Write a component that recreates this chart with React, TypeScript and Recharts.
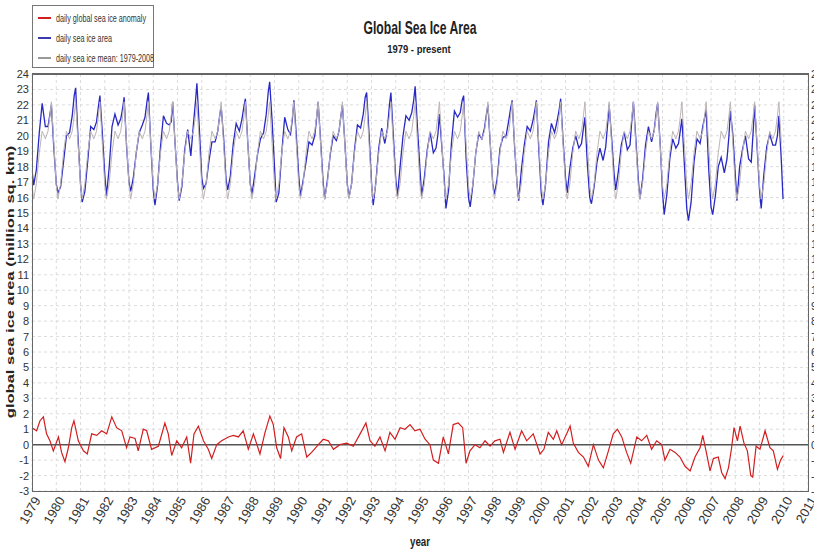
import React from 'react';
import { LineChart, Line, XAxis, YAxis, CartesianGrid, ReferenceLine } from 'recharts';

// years with data, and where each year's readings sit inside the year
const years = [
  1979, 1980, 1981, 1982, 1983, 1984, 1985, 1986, 1987, 1988, 1989, 1990, 1991, 1992, 1993, 1994,
  1995, 1996, 1997, 1998, 1999, 2000, 2001, 2002, 2003, 2004, 2005, 2006, 2007, 2008, 2009,
];
const seasonFractions = [0, 0.07, 0.18, 0.3, 0.42, 0.55, 0.66, 0.74, 0.8, 0.9];

// 1979-2008 mean cycle (same every year)
const meanCycle = [16.8, 15.9, 16.9, 18.9, 20.3, 19.8, 20.3, 21.3, 22.2, 19.5];

// daily sea ice area, read per year at the season fractions above
const areaByYear = [
  [17.8, 16.8, 17.8, 20.2, 22.1, 20.6, 20.6, 21.4, 22.0, 19.2],
  [16.9, 16.3, 16.7, 18.3, 20.0, 20.2, 21.3, 22.6, 23.1, 19.8],
  [16.9, 15.7, 16.4, 18.4, 20.6, 20.4, 20.9, 21.9, 22.6, 20.2],
  [17.5, 16.1, 17.9, 20.6, 21.4, 20.7, 21.1, 21.8, 22.5, 19.3],
  [17.0, 16.4, 17.3, 18.9, 20.2, 20.7, 21.2, 22.2, 22.8, 19.4],
  [16.5, 15.5, 16.8, 19.3, 21.3, 20.8, 20.7, 20.9, 22.2, 19.5],
  [17.0, 15.8, 16.7, 19.1, 20.4, 18.7, 20.8, 22.2, 23.4, 20.5],
  [17.3, 16.6, 16.9, 18.4, 19.6, 19.6, 20.3, 21.3, 21.9, 19.9],
  [17.2, 16.5, 17.4, 19.5, 20.8, 20.3, 21.1, 21.9, 22.4, 19.5],
  [16.9, 16.2, 17.4, 18.8, 19.8, 20.2, 21.4, 22.8, 23.5, 21.0],
  [18.0, 15.7, 16.3, 18.9, 21.2, 20.4, 20.1, 21.1, 22.3, 20.0],
  [17.4, 16.1, 17.1, 18.3, 19.6, 19.4, 20.0, 21.2, 22.2, 19.7],
  [17.1, 15.9, 17.1, 18.8, 20.0, 19.7, 20.3, 21.3, 22.0, 19.6],
  [16.9, 16.0, 16.9, 19.1, 20.7, 20.5, 21.4, 22.5, 22.8, 20.1],
  [17.0, 15.5, 17.0, 19.2, 20.5, 19.5, 20.5, 22.0, 22.8, 20.0],
  [17.2, 16.1, 18.0, 20.0, 21.3, 21.0, 21.5, 22.3, 23.2, 20.4],
  [17.8, 16.1, 17.3, 19.1, 20.2, 18.9, 19.2, 20.1, 21.4, 19.3],
  [17.2, 15.3, 16.5, 19.6, 21.6, 21.2, 21.5, 22.3, 22.6, 18.6],
  [16.0, 15.4, 16.8, 18.9, 20.1, 19.8, 20.5, 21.4, 22.0, 19.4],
  [16.9, 16.2, 17.2, 19.2, 19.9, 20.0, 21.0, 21.8, 22.3, 19.3],
  [16.9, 15.8, 17.8, 19.4, 20.6, 20.3, 21.0, 21.7, 22.3, 19.1],
  [16.3, 15.5, 16.9, 19.6, 20.8, 20.2, 21.0, 21.7, 22.4, 19.7],
  [17.3, 16.3, 17.9, 19.2, 20.0, 19.2, 19.5, 20.5, 21.2, 18.2],
  [16.0, 15.6, 16.7, 18.3, 19.2, 18.4, 19.3, 20.8, 22.0, 19.9],
  [17.6, 16.5, 17.7, 19.4, 20.2, 19.1, 19.4, 21.1, 22.2, 19.8],
  [17.2, 15.9, 17.2, 19.4, 20.6, 19.6, 20.4, 21.5, 22.1, 19.6],
  [16.4, 14.9, 16.2, 18.5, 19.8, 19.2, 19.5, 20.4, 21.1, 18.2],
  [15.3, 14.5, 15.7, 18.3, 19.8, 19.5, 20.6, 21.2, 21.7, 18.0],
  [15.4, 14.9, 16.1, 18.0, 18.6, 17.6, 18.5, 20.0, 21.6, 20.1],
  [17.5, 15.8, 18.0, 19.1, 20.0, 18.5, 18.3, 20.3, 22.0, 19.3],
  [16.5, 15.3, 17.5, 19.3, 20.1, 19.4, 19.4, 20.0, 21.3, 18.4],
];
const areaEnd = { t: 2009.97, v: 15.9 };

// daily global sea ice anomaly [year, million sq. km]
const anomaly: [number, number][] = [
  [1979.0, 1.1], [1979.19, 0.9], [1979.33, 1.55], [1979.47, 1.8], [1979.6, 0.7], [1979.74, 0.25],
  [1979.88, -0.4], [1980.09, 0.5], [1980.22, -0.5], [1980.36, -1.1], [1980.5, -0.2], [1980.64, 1.1],
  [1980.73, 1.55], [1980.91, 0.25], [1981.12, -0.4], [1981.28, -0.6], [1981.46, 0.7], [1981.67, 0.6],
  [1981.87, 0.9], [1982.08, 0.7], [1982.29, 1.8], [1982.49, 1.1], [1982.7, 0.9], [1982.9, -0.2],
  [1983.04, 0.5], [1983.25, 0.4], [1983.38, -0.4], [1983.59, 1.0], [1983.73, 0.9], [1983.93, -0.3],
  [1984.21, -0.1], [1984.48, 1.4], [1984.62, 0.7], [1984.76, -0.7], [1984.97, 0.25], [1985.17, -0.2],
  [1985.38, 0.5], [1985.54, -1.2], [1985.68, 0.7], [1985.86, 1.2], [1986.07, 0.25], [1986.27, -0.3],
  [1986.41, -0.9], [1986.62, 0.0], [1986.82, 0.25], [1987.1, 0.5], [1987.3, 0.6], [1987.51, 0.5],
  [1987.71, 0.9], [1987.92, -0.3], [1988.13, 0.7], [1988.4, -0.6], [1988.61, 0.8], [1988.81, 1.85],
  [1988.95, 1.3], [1989.09, -0.2], [1989.25, -0.9], [1989.39, 1.1], [1989.57, 0.5], [1989.71, -0.4],
  [1989.91, 0.5], [1990.12, 0.7], [1990.33, -0.8], [1990.53, -0.5], [1990.81, 0.0], [1991.01, 0.35],
  [1991.22, 0.25], [1991.43, -0.3], [1991.7, 0.0], [1991.98, 0.1], [1992.25, -0.1], [1992.53, 0.7],
  [1992.77, 1.4], [1992.94, 0.25], [1993.14, -0.1], [1993.35, 0.5], [1993.56, -0.4], [1993.76, 0.8],
  [1993.97, 0.35], [1994.18, 1.1], [1994.38, 1.0], [1994.59, 1.3], [1994.79, 0.9], [1995.0, 1.0],
  [1995.21, 0.35], [1995.41, 0.0], [1995.55, -1.0], [1995.76, -1.2], [1995.96, 0.5], [1996.17, -0.6],
  [1996.37, 1.3], [1996.58, 1.4], [1996.76, 1.1], [1996.9, -1.2], [1997.06, -0.4], [1997.27, 0.0],
  [1997.47, -0.2], [1997.68, 0.25], [1997.89, -0.1], [1998.09, 0.25], [1998.3, 0.35], [1998.44, -0.5],
  [1998.71, 0.8], [1998.92, -0.3], [1999.19, 0.9], [1999.4, 0.25], [1999.67, 0.7], [1999.95, -0.6],
  [2000.11, -0.3], [2000.29, 0.8], [2000.5, 0.35], [2000.64, 0.9], [2000.84, 0.0], [2001.05, 0.7],
  [2001.19, 1.2], [2001.32, 0.1], [2001.53, -0.5], [2001.74, -0.8], [2001.94, -1.4], [2002.15, 0.0],
  [2002.36, -1.0], [2002.56, -1.5], [2002.77, -0.4], [2002.97, 0.7], [2003.14, 1.0], [2003.32, 0.5],
  [2003.52, -0.5], [2003.69, -1.2], [2003.94, 0.5], [2004.14, 0.25], [2004.35, 0.6], [2004.55, -0.3],
  [2004.76, 0.25], [2004.97, 0.0], [2005.1, -1.0], [2005.31, -0.3], [2005.52, -0.5], [2005.72, -0.8],
  [2005.93, -1.4], [2006.14, -1.7], [2006.34, -0.8], [2006.55, -0.2], [2006.66, 0.6], [2006.82, -0.6],
  [2006.96, -1.7], [2007.1, -0.9], [2007.3, -0.8], [2007.44, -1.8], [2007.58, -2.2], [2007.72, -1.5],
  [2007.85, -0.2], [2007.95, 1.1], [2008.09, 0.25], [2008.2, 1.2], [2008.36, 0.1], [2008.5, -0.4],
  [2008.64, -2.0], [2008.72, -2.1], [2008.86, -0.1], [2009.02, -0.3], [2009.23, 0.9], [2009.43, -0.2],
  [2009.57, -0.4], [2009.74, -1.6], [2009.87, -1.0], [2009.98, -0.7],
];

const yearTicks = [
  1979, 1980, 1981, 1982, 1983, 1984, 1985, 1986, 1987, 1988, 1989, 1990, 1991, 1992, 1993, 1994, 1995,
  1996, 1997, 1998, 1999, 2000, 2001, 2002, 2003, 2004, 2005, 2006, 2007, 2008, 2009, 2010, 2011,
];
const valueTicks = [
  -3, -2, -1, 0, 1, 2, 3, 4, 5, 6, 7, 8, 9, 10, 11, 12, 13, 14, 15, 16, 17, 18, 19, 20, 21, 22, 23, 24,
];

const areaData = [
  ...years.flatMap((y, yi) => seasonFractions.map((f, i) => ({ t: y + f, v: areaByYear[yi][i] }))),
  areaEnd,
];
const meanData = years.flatMap((y) => seasonFractions.map((f, i) => ({ t: y + f, v: meanCycle[i] })));
const anomalyData = anomaly.map(([t, v]) => ({ t, v }));

const FONT = '"Liberation Sans Narrow", "Arial Narrow", "Liberation Sans", Arial, sans-serif';

const YearTick = ({ x, y, payload }: any) => (
  <g transform={`translate(${x + 9},${y + 7})`}>
    <text textAnchor="end" fontSize={13} fill="#333" fontFamily={FONT} transform="rotate(-60)">
      {payload.value}
    </text>
  </g>
);

const LeftTick = ({ x, y, payload }: any) => (
  <text x={x} y={y} dy={4} textAnchor="end" fontSize={11} fill="#333" fontFamily={FONT}>
    {payload.value}
  </text>
);

const RightTick = ({ x, y, payload }: any) => (
  <text x={x} y={y} dy={4} textAnchor="start" fontSize={11} fill="#333" fontFamily={FONT}>
    {payload.value}
  </text>
);

const legendItems = [
  { label: 'daily global sea ice anomaly', color: '#d21e1e' },
  { label: 'daily sea ice area', color: '#3a3ab0' },
  { label: 'daily sea ice mean: 1979-2008', color: '#999' },
];

export default function App() {
  return (
    <div style={{ position: 'absolute', left: 0, top: 0, width: 814, height: 551, background: '#fff', overflow: 'hidden' }}>
      <LineChart width={814} height={551} margin={{ top: 74, right: 0, bottom: 0, left: 0 }}>
        <CartesianGrid stroke="#dcdcdc" strokeDasharray="3 3" yAxisId="left" />
        <XAxis
          type="number"
          dataKey="t"
          domain={[1979, 2011]}
          ticks={yearTicks}
          interval={0}
          tick={<YearTick />}
          tickLine={false}
          axisLine={false}
          tickSize={0}
          height={60}
          allowDataOverflow
        />
        <YAxis
          yAxisId="left"
          type="number"
          domain={[-3, 24]}
          ticks={valueTicks}
          interval={0}
          width={32}
          tick={<LeftTick />}
          tickLine={false}
          axisLine={false}
          tickSize={0}
          tickMargin={3}
          allowDataOverflow
        />
        <YAxis
          yAxisId="right"
          orientation="right"
          type="number"
          domain={[-3, 24]}
          ticks={valueTicks}
          interval={0}
          width={6}
          tick={<RightTick />}
          tickLine={false}
          axisLine={false}
          tickSize={0}
          tickMargin={3}
          allowDataOverflow
        />
        <ReferenceLine yAxisId="left" y={0} stroke="#555" strokeWidth={1.5} />
        <Line
          yAxisId="left"
          data={anomalyData}
          dataKey="v"
          type="linear"
          stroke="#d21e1e"
          strokeWidth={1.2}
          dot={false}
          isAnimationActive={false}
        />
        <Line
          yAxisId="left"
          data={areaData}
          dataKey="v"
          type="linear"
          stroke="#2828c4"
          strokeWidth={1.3}
          dot={false}
          isAnimationActive={false}
        />
        <Line
          yAxisId="left"
          data={meanData}
          dataKey="v"
          type="linear"
          stroke="#bdb4b4"
          strokeWidth={1}
          dot={false}
          isAnimationActive={false}
        />
      </LineChart>

      {/* plot frame */}
      <div
        style={{
          position: 'absolute', left: 32, top: 73, width: 777, height: 419,
          border: '1px solid #666', borderTopWidth: 2, boxSizing: 'border-box', pointerEvents: 'none',
        }}
      />

      {/* legend */}
      <div
        style={{
          position: 'absolute', left: 32, top: 5, width: 122, height: 63, border: '1px solid #777',
          boxSizing: 'border-box', background: '#fff', fontFamily: FONT,
        }}
      >
        {legendItems.map((it, i) => (
          <div key={it.label} style={{ position: 'absolute', left: 5, top: 6 + i * 20, height: 12, display: 'flex', alignItems: 'center' }}>
            <span style={{ display: 'inline-block', width: 13, height: 1.5, background: it.color, marginRight: 5 }} />
            <span style={{ fontSize: 10, color: '#333', whiteSpace: 'nowrap', display: 'inline-block', transform: 'scaleX(0.72)', transformOrigin: 'left center' }}>
              {it.label}
            </span>
          </div>
        ))}
      </div>

      {/* titles */}
      <div
        style={{
          position: 'absolute', left: 0, width: 840, top: 17, textAlign: 'center', fontFamily: 'Liberation Sans, Arial, sans-serif',
          fontWeight: 'bold', fontSize: 19, color: '#222', transform: 'scaleX(0.64)', transformOrigin: '420px 0',
        }}
      >
        Global Sea Ice Area
      </div>
      <div
        style={{
          position: 'absolute', left: 0, width: 838, top: 43, textAlign: 'center', fontFamily: 'Liberation Sans, Arial, sans-serif',
          fontWeight: 'bold', fontSize: 11.5, color: '#222', transform: 'scaleX(0.82)', transformOrigin: '419px 0',
        }}
      >
        1979 - present
      </div>
      <div style={{ position: 'absolute', left: 10, top: 282, width: 0, height: 0, overflow: 'visible' }}>
        <div
          style={{
            position: 'absolute', left: -200, top: -10, width: 400, height: 20, lineHeight: '20px', textAlign: 'center',
            fontFamily: 'Liberation Sans, Arial, sans-serif', fontWeight: 'bold', fontSize: 16.5, color: '#222', whiteSpace: 'nowrap',
            transform: 'scaleX(0.68) rotate(-90deg)', transformOrigin: '200px 10px',
          }}
        >
          global sea ice area (million sq. km)
        </div>
      </div>
      <div
        style={{
          position: 'absolute', left: 0, width: 840, top: 534, textAlign: 'center', fontFamily: 'Liberation Sans, Arial, sans-serif',
          fontWeight: 'bold', fontSize: 13, color: '#222', transform: 'scaleX(0.75)', transformOrigin: '420px 0',
        }}
      >
        year
      </div>
    </div>
  );
}
